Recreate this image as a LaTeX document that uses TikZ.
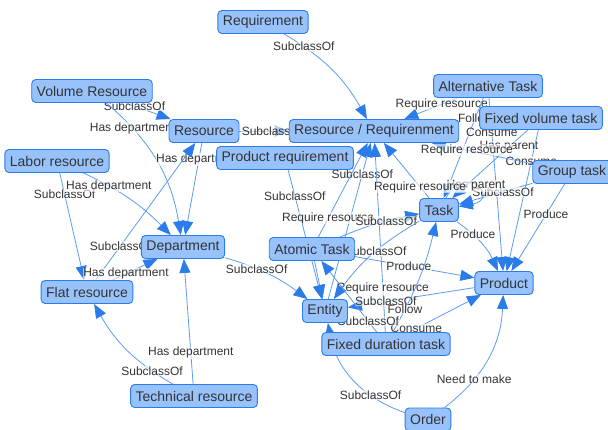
\documentclass[tikz,border=0pt]{standalone}
\usepackage{fontspec}
\setmainfont{Liberation Sans}
\usetikzlibrary{arrows.meta}
\definecolor{nodefill}{HTML}{97C2FC}
\definecolor{nodeborder}{HTML}{2B7CE9}
\definecolor{edgec}{HTML}{5B9CF0}
\definecolor{arrowc}{HTML}{2B7CE9}
\definecolor{txt}{HTML}{343434}
\pgfdeclarelayer{bg}
\pgfsetlayers{bg,main}
\begin{document}
\begin{tikzpicture}[x=1pt,y=-1pt,
  cls/.style={draw=nodeborder, fill=nodefill, rounded corners=4pt, line width=0.9pt,
    minimum height=23pt, inner xsep=5pt, inner ysep=2pt, text=txt,
    font=\fontsize{14}{16}\selectfont},
  edg/.style={draw=edgec, line width=0.8pt, -{Triangle[length=14pt,width=11pt,color=arrowc]}},
  lb/.style={font=\fontsize{12}{13}\selectfont, text=txt, fill=white, fill opacity=0.6,
    text opacity=1, inner sep=0.5pt}
]
\useasboundingbox (0,0) rectangle (608,430);
% nodes
\node[cls] (req) at (263,22) {Requirement};
\node[cls] (vol) at (92,91) {Volume Resource};
\node[cls] (res) at (204,131) {Resource};
\node[cls] (resreq) at (374,131) {Resource / Requirenment};
\node[cls] (prodreq) at (285,158) {Product requirement};
\node[cls] (labor) at (57,161) {Labor resource};
\node[cls] (alt) at (488,86) {Alternative Task};
\node[cls] (fvt) at (541,118) {Fixed volume task};
\node[cls] (group) at (572,172) {Group task};
\node[cls] (task) at (439,210) {Task};
\node[cls] (dep) at (183,247) {Department};
\node[cls] (atomic) at (312,249) {Atomic Task};
\node[cls] (flat) at (87,292) {Flat resource};
\node[cls] (product) at (504,283) {Product};
\node[cls] (entity) at (325,311) {Entity};
\node[cls] (fdt) at (386,344) {Fixed duration task};
\node[cls] (order) at (428,419.5) {Order};
\node[cls] (tech) at (194,396) {Technical resource};
% edges
\begin{pgfonlayer}{bg}
\fill[white] (0,0) rectangle (608,430);
\draw[edg] (req) to[bend left=15] node[lb,pos=0.18] {SubclassOf} (resreq);
\draw[edg] (vol) -- node[lb,pos=0.2] {SubclassOf} (res);
\draw[edg] (vol) to[bend left=20] node[lb,pos=0.22] {Has department} (dep);
\draw[edg] (res) -- node[lb,pos=0.67] {SubclassOf} (resreq);
\draw[edg] (res) -- node[lb,pos=0.18] {Has department} (dep);
\draw[edg] (flat) -- node[lb,pos=0.25] {SubclassOf} (res);
\draw[edg] (labor) -- node[lb,pos=0.2] {SubclassOf} (flat);
\draw[edg] (labor) to[bend left=10] node[lb,pos=0.25] {Has department} (dep);
\draw[edg] (flat) -- node[lb,pos=0.3] {Has department} (dep);
\draw[edg] (tech) to[bend left=15] node[lb,pos=0.2] {SubclassOf} (flat);
\draw[edg] (tech) -- node[lb,pos=0.25] {Has department} (dep);
\draw[edg] (dep) to[bend left=10] node[lb,pos=0.35] {SubclassOf} (entity);
\draw[edg] (prodreq) -- node[lb,pos=0.2] {SubclassOf} (entity);
\draw[edg] (entity) -- node[lb,pos=0.8] {SubclassOf} (resreq);
\draw[edg] (atomic) -- node[lb,pos=0.2] {Require resource} (resreq);
\draw[edg] (fdt) -- node[lb,pos=0.23] {Require resource} (resreq);
\draw[edg] (alt) -- node[lb,pos=0.3] {Require resource} (resreq);
\draw[edg] (alt) -- node[lb,pos=0.2] {Follow} (task);
\draw[edg] (alt) -- node[lb,pos=0.2] {Consume} (product);
\draw[edg] (fvt) -- node[lb,pos=0.25] {Has parent} (task);
\draw[edg] (fvt) -- node[lb,pos=0.22] {Consume} (product);
\draw[edg] (group) -- node[lb,pos=0.65] {Require resource} (resreq);
\draw[edg] (group) -- node[lb,pos=0.4] {SubclassOf} (task);
\draw[edg] (task) to[out=60,in=10,looseness=7] node[lb,pos=0.5] {Has parent} (task);
\draw[edg] (group) -- node[lb,pos=0.35] {Produce} (product);
\draw[edg] (task) to[bend left=15] node[lb,pos=0.3] {Produce} (product);
\draw[edg] (task) -- node[lb,pos=0.2] {Require resource} (resreq);
\draw[edg] (atomic) to[bend left=6] node[lb,pos=0.6] {SubclassOf} (task);
\draw[edg] (task) to[bend right=12] node[lb,pos=0.45] {SubclassOf} (entity);
\draw[edg] (atomic) -- node[lb,pos=0.45] {Produce} (product);
\draw[edg] (atomic) -- (entity);
\draw[edg] (product) -- node[lb,pos=0.7] {SubclassOf} (entity);
\draw[edg] (fdt) -- node[lb,pos=0.1] {Consume} (product);
\draw[edg] (fdt) to[bend right=8] node[lb,pos=0.2] {Follow} (task);
\draw[edg] (fdt) -- node[lb,pos=0.15] {SubclassOf} (atomic);
\draw[edg] (order) to[bend right=25] node[lb,pos=0.3] {Need to make} (product);
\draw[edg] (order) to[bend left=30] node[lb,pos=0.3] {SubclassOf} (entity);
\end{pgfonlayer}
\end{tikzpicture}
\end{document}
